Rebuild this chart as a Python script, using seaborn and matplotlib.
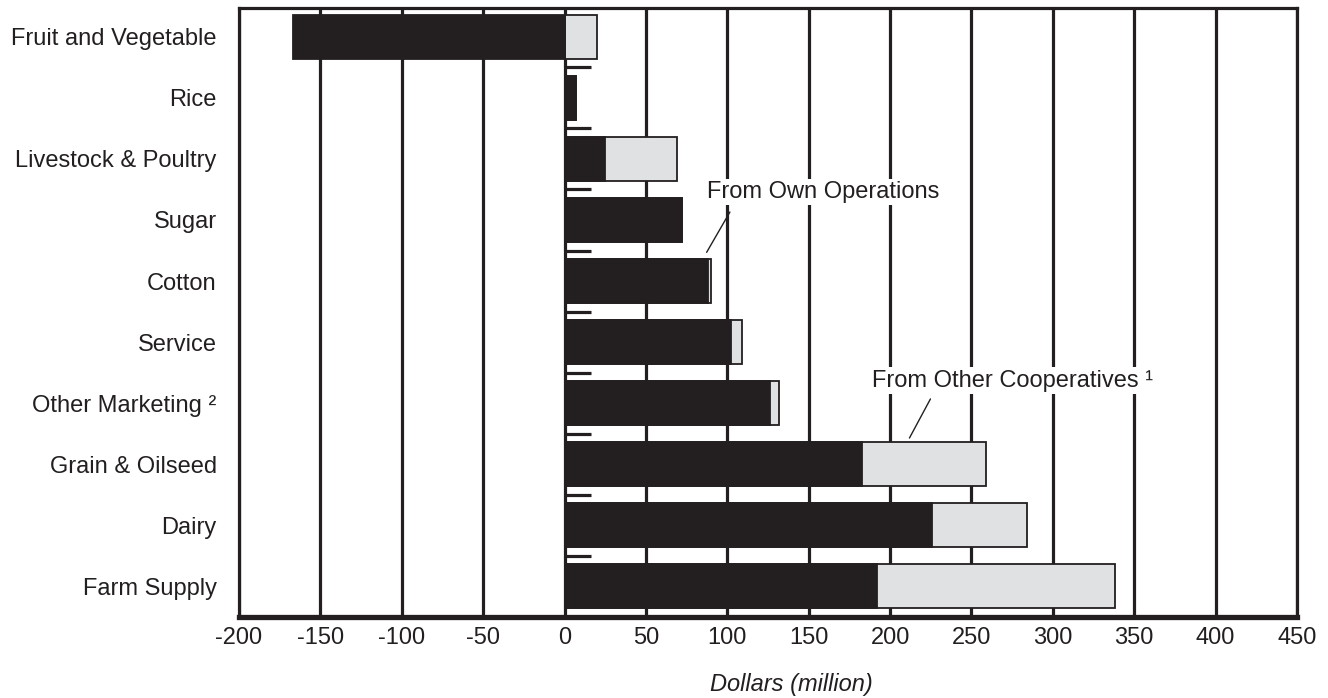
import numpy as np
import pandas as pd
import matplotlib
matplotlib.use("Agg")
import matplotlib.pyplot as plt
import seaborn as sns

# Net margins by cooperative type, million dollars
categories = [
    "Fruit and Vegetable", "Rice", "Livestock & Poultry", "Sugar", "Cotton",
    "Service", "Other Marketing \u00b2", "Grain & Oilseed", "Dairy", "Farm Supply",
]
own_operations = [-167, 7, 25, 72, 88, 102, 126, 183, 226, 192]
other_cooperatives = [20, 0, 44, 0, 2, 7, 6, 76, 58, 146]
x_ticks = list(range(-200, 451, 50))

sns.set_theme(style="white")
plt.rcParams["font.family"] = ["Liberation Sans", "DejaVu Sans"]
plt.rcParams["axes.unicode_minus"] = False

INK = "#231f20"
GRAY = "#e0e1e3"
FS = 17

df = pd.DataFrame({
    "category": categories,
    "own": own_operations,
    "other": other_cooperatives,
})
# patronage from other co-ops stacks on the positive side of own earnings
df["outer"] = df["own"].clip(lower=0) + df["other"]

fig = plt.figure(figsize=(13.28, 6.98), dpi=100)
ax = fig.add_axes([239 / 1328, 1 - 617 / 698, (1297 - 239) / 1328, (617 - 8) / 698])

sns.barplot(data=df, x="outer", y="category", order=categories, orient="h",
            color=GRAY, saturation=1, width=0.72, edgecolor=INK, linewidth=1.3,
            errorbar=None, ax=ax)
sns.barplot(data=df, x="own", y="category", order=categories, orient="h",
            color=INK, saturation=1, width=0.72, edgecolor=INK, linewidth=1.3,
            errorbar=None, ax=ax)

ax.set_xlim(-200, 450)
ax.set_ylim(len(categories) - 0.5, -0.47)
ax.set_xticks(x_ticks)
ax.set_xticklabels([str(v) for v in x_ticks])
ax.xaxis.grid(True, color=INK, linewidth=2.3)
ax.yaxis.grid(False)
ax.set_axisbelow(True)

# short separators on the zero line between categories
ax.hlines(np.arange(-0.5, len(categories)), 0, 16, colors=INK, linewidth=2.3, zorder=0.8)

ax.tick_params(axis="both", length=0, labelsize=FS, colors=INK)
ax.tick_params(axis="y", pad=16)
ax.tick_params(axis="x", pad=7)

for side, sp in ax.spines.items():
    sp.set_visible(True)
    sp.set_color(INK)
    sp.set_linewidth(2.3)
ax.spines["bottom"].set_linewidth(3.8)

ax.set_ylabel("")
ax.set_xlabel("Dollars (million)", fontsize=FS, fontstyle="italic", color=INK)
ax.xaxis.set_label_coords(0.522, -0.092)

# callouts
ax.plot([101.6, 87.3], [2.87, 3.53], color=INK, linewidth=1.0, zorder=3)
ax.text(87.7, 2.54, "From Own Operations", fontsize=FS, color=INK,
        ha="left", va="center", zorder=3,
        bbox=dict(facecolor="white", edgecolor="none", pad=1.5))
ax.plot([224.8, 211.9], [5.93, 6.57], color=INK, linewidth=1.0, zorder=3)
ax.text(189, 5.63, "From Other Cooperatives \u00b9", fontsize=FS, color=INK,
        ha="left", va="center", zorder=3,
        bbox=dict(facecolor="white", edgecolor="none", pad=1.5))

fig.savefig("out.png", dpi=100, facecolor="white")
